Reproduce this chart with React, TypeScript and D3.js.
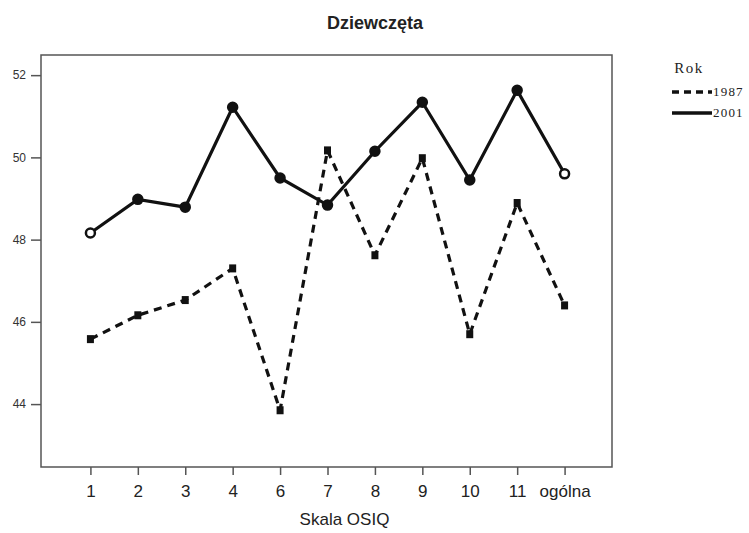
import { useEffect, useRef } from "react";
import * as d3 from "d3";

const categories = ["1", "2", "3", "4", "6", "7", "8", "9", "10", "11", "ogólna"];
const values1987 = [45.58, 46.16, 46.53, 47.3, 43.85, 50.17, 47.62, 49.98, 45.7, 48.89, 46.4];
const values2001 = [48.16, 48.98, 48.79, 51.22, 49.5, 48.84, 50.15, 51.34, 49.45, 51.63, 49.6];
const yTicks = [44, 46, 48, 50, 52];

const narrow = "'Liberation Sans Narrow', 'Arial Narrow', 'Liberation Sans', Arial, sans-serif";

export default function App() {
  const ref = useRef<SVGSVGElement>(null);

  useEffect(() => {
    const width = 749;
    const height = 533;
    const margin = { top: 55, right: 137, bottom: 66, left: 41 };

    const svg = d3.select(ref.current).attr("viewBox", `0 0 ${width} ${height}`);
    svg.selectAll("*").remove();

    const x = d3
      .scalePoint<string>()
      .domain(categories)
      .range([margin.left + 2, width - margin.right])
      .padding(1);

    const y = d3
      .scaleLinear()
      .domain([42.47, 52.49])
      .range([height - margin.bottom, margin.top]);

    // plot frame
    svg
      .append("rect")
      .attr("x", margin.left)
      .attr("y", margin.top)
      .attr("width", width - margin.right - margin.left)
      .attr("height", height - margin.bottom - margin.top)
      .attr("fill", "none")
      .attr("stroke", "#555")
      .attr("stroke-width", 1.5);

    const yAxis = svg
      .append("g")
      .attr("transform", `translate(${margin.left},0)`)
      .call(d3.axisLeft(y).tickValues(yTicks).tickSize(10).tickPadding(5));
    yAxis.select(".domain").remove();
    yAxis.selectAll("line").attr("stroke", "#555").attr("stroke-width", 1.5);
    yAxis
      .selectAll("text")
      .attr("font-family", narrow)
      .attr("font-size", 12)
      .attr("fill", "#333");

    const xAxis = svg
      .append("g")
      .attr("transform", `translate(0,${height - margin.bottom})`)
      .call(d3.axisBottom(x).tickSize(8).tickPadding(10));
    xAxis.select(".domain").remove();
    xAxis.selectAll("line").attr("stroke", "#555").attr("stroke-width", 1.5);
    xAxis
      .selectAll("text")
      .attr("font-family", narrow)
      .attr("font-size", 17)
      .attr("fill", "#222");

    const line = d3
      .line<number>()
      .x((_, i) => x(categories[i])!)
      .y(d => y(d));

    svg
      .append("path")
      .datum(values1987)
      .attr("fill", "none")
      .attr("stroke", "#111")
      .attr("stroke-width", 3.2)
      .attr("stroke-dasharray", "8,6")
      .attr("d", line);

    svg
      .append("path")
      .datum(values2001)
      .attr("fill", "none")
      .attr("stroke", "#111")
      .attr("stroke-width", 3.2)
      .attr("d", line);

    svg
      .append("g")
      .selectAll("circle")
      .data(values2001)
      .join("circle")
      .attr("cx", (_, i) => x(categories[i])!)
      .attr("cy", d => y(d))
      .attr("r", 4.5)
      .attr("fill", (_, i) => (i === 0 || i === categories.length - 1 ? "#fff" : "#111"))
      .attr("stroke", "#111")
      .attr("stroke-width", 2.5);

    svg
      .append("g")
      .selectAll("rect")
      .data(values1987)
      .join("rect")
      .attr("x", (_, i) => x(categories[i])! - 3.5)
      .attr("y", d => y(d) - 4)
      .attr("width", 7)
      .attr("height", 8)
      .attr("fill", "#111");

    // title
    svg
      .append("text")
      .attr("x", 375)
      .attr("y", 29)
      .attr("text-anchor", "middle")
      .attr("font-family", narrow)
      .attr("font-weight", "bold")
      .attr("font-size", 18)
      .attr("fill", "#222")
      .text("Dziewczęta");

    svg
      .append("text")
      .attr("x", (margin.left + width - margin.right) / 2 + 18)
      .attr("y", 525)
      .attr("text-anchor", "middle")
      .attr("font-family", narrow)
      .attr("font-size", 17)
      .attr("fill", "#222")
      .text("Skala OSIQ");

    // legend
    const legend = svg.append("g").attr("font-family", "'Liberation Serif', 'Times New Roman', serif");
    legend
      .append("text")
      .attr("x", 689)
      .attr("y", 73)
      .attr("text-anchor", "middle")
      .attr("font-size", 15)
      .attr("letter-spacing", 1.5)
      .attr("fill", "#222")
      .text("Rok");

    const items = [
      { label: "1987", dash: "7,5" },
      { label: "2001", dash: null },
    ];
    items.forEach((it, i) => {
      const ly = 92 + i * 21;
      legend
        .append("line")
        .attr("x1", 672)
        .attr("x2", 712)
        .attr("y1", ly)
        .attr("y2", ly)
        .attr("stroke", "#111")
        .attr("stroke-width", 3.5)
        .attr("stroke-dasharray", it.dash);
      legend
        .append("text")
        .attr("x", 713)
        .attr("y", ly + 4)
        .attr("font-size", 13)
        .attr("letter-spacing", 1.2)
        .attr("fill", "#222")
        .text(it.label);
    });
  }, []);

  return (
    <svg
      ref={ref}
      width={749}
      height={533}
      style={{ position: "absolute", left: 0, top: 0, background: "#fff" }}
    />
  );
}
